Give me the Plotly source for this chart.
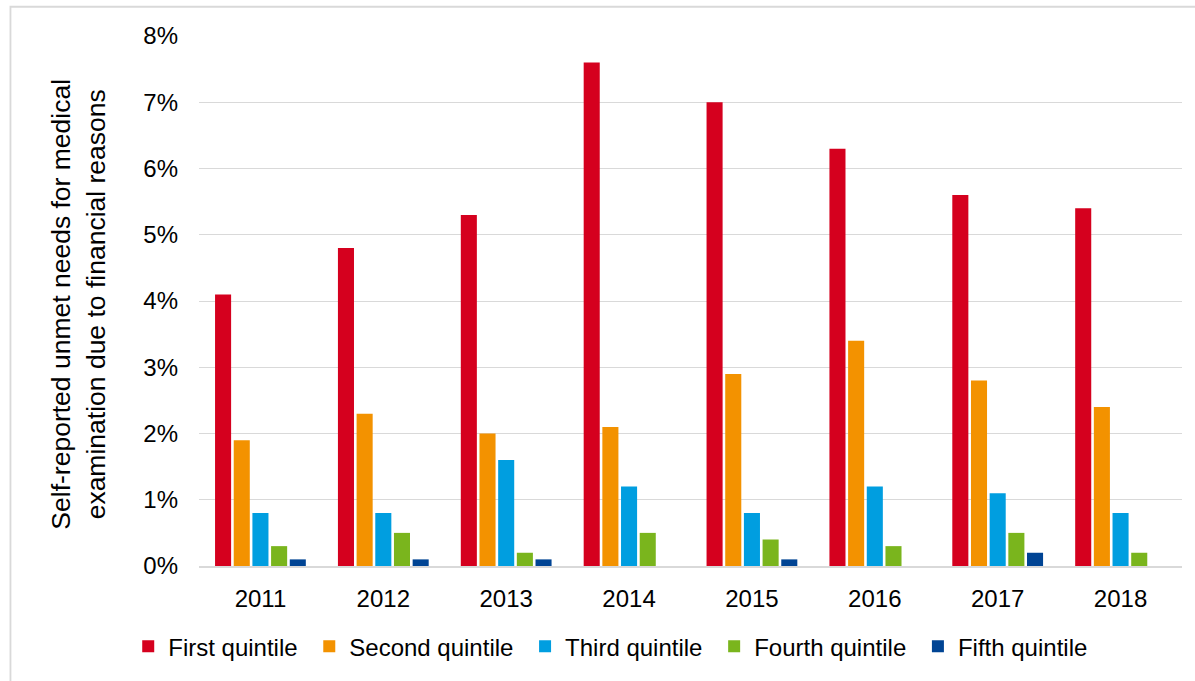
import plotly.graph_objects as go

# Survey years on the category axis
years = ["2011", "2012", "2013", "2014", "2015", "2016", "2017", "2018"]

# Share (%) reporting unmet needs for medical examination, by income quintile
first_quintile = [4.1, 4.8, 5.3, 7.6, 7.0, 6.3, 5.6, 5.4]
second_quintile = [1.9, 2.3, 2.0, 2.1, 2.9, 3.4, 2.8, 2.4]
third_quintile = [0.8, 0.8, 1.6, 1.2, 0.8, 1.2, 1.1, 0.8]
fourth_quintile = [0.3, 0.5, 0.2, 0.5, 0.4, 0.3, 0.5, 0.2]
fifth_quintile = [0.1, 0.1, 0.1, 0.0, 0.1, 0.0, 0.2, 0.0]

series_names = ["First quintile", "Second quintile", "Third quintile",
                "Fourth quintile", "Fifth quintile"]
series_values = [first_quintile, second_quintile, third_quintile,
                 fourth_quintile, fifth_quintile]
series_colors = ["#D5001E", "#F39200", "#009EE0", "#7AB51D", "#004494"]

y_ticks = [0, 1, 2, 3, 4, 5, 6, 7, 8]
y_tick_labels = [f"{v}%" for v in y_ticks]

FONT = "Liberation Sans, Arial, sans-serif"
NBSP = "\u00a0"  # a little extra room after each legend entry

fig = go.Figure()
for name, vals, color in zip(series_names, series_values, series_colors):
    fig.add_trace(go.Bar(
        x=years,
        y=vals,
        name=name + NBSP,
        marker=dict(color=color, line=dict(width=0)),
    ))

fig.update_layout(
    width=1195,
    height=681,
    barmode="group",
    bargap=0.24,
    bargroupgap=0.14,
    plot_bgcolor="white",
    paper_bgcolor="white",
    margin=dict(l=199, r=13, t=36, b=111),
    font=dict(family=FONT, size=24, color="#000000"),
    showlegend=True,
    legend=dict(
        orientation="h",
        x=-0.072,
        xanchor="left",
        y=-0.152,
        yanchor="middle",
        font=dict(family=FONT, size=24, color="#000000"),
        bgcolor="rgba(0,0,0,0)",
        traceorder="normal",
    ),
    xaxis=dict(
        showgrid=False,
        showline=True,
        linecolor="#D9D9D9",
        linewidth=1.5,
        ticks="",
        ticklabelstandoff=10,
        tickfont=dict(family=FONT, size=24, color="#000000"),
    ),
    yaxis=dict(
        range=[0, 8],
        tickvals=y_ticks,
        ticktext=y_tick_labels,
        showgrid=True,
        gridcolor="#D9D9D9",
        gridwidth=1.2,
        zeroline=False,
        showline=False,
        ticks="",
        ticklabelstandoff=20,
        tickfont=dict(family=FONT, size=24, color="#000000"),
    ),
    annotations=[
        dict(
            text="Self-reported unmet needs for medical<br>examination due to financial reasons",
            xref="paper", yref="paper",
            x=-0.1231, y=0.495,
            xanchor="center", yanchor="middle",
            textangle=-90,
            showarrow=False,
            font=dict(family=FONT, size=26.5, color="#000000"),
        )
    ],
    shapes=[
        # outer chart frame (continues past the right and bottom edges)
        dict(
            type="rect", xref="paper", yref="paper",
            x0=-0.1918, x1=1.1, y0=-0.5, y1=1.0552,
            line=dict(color="#D9D9D9", width=1.8),
            fillcolor="rgba(0,0,0,0)",
            layer="below",
        )
    ],
)

fig.write_html("out.html")
